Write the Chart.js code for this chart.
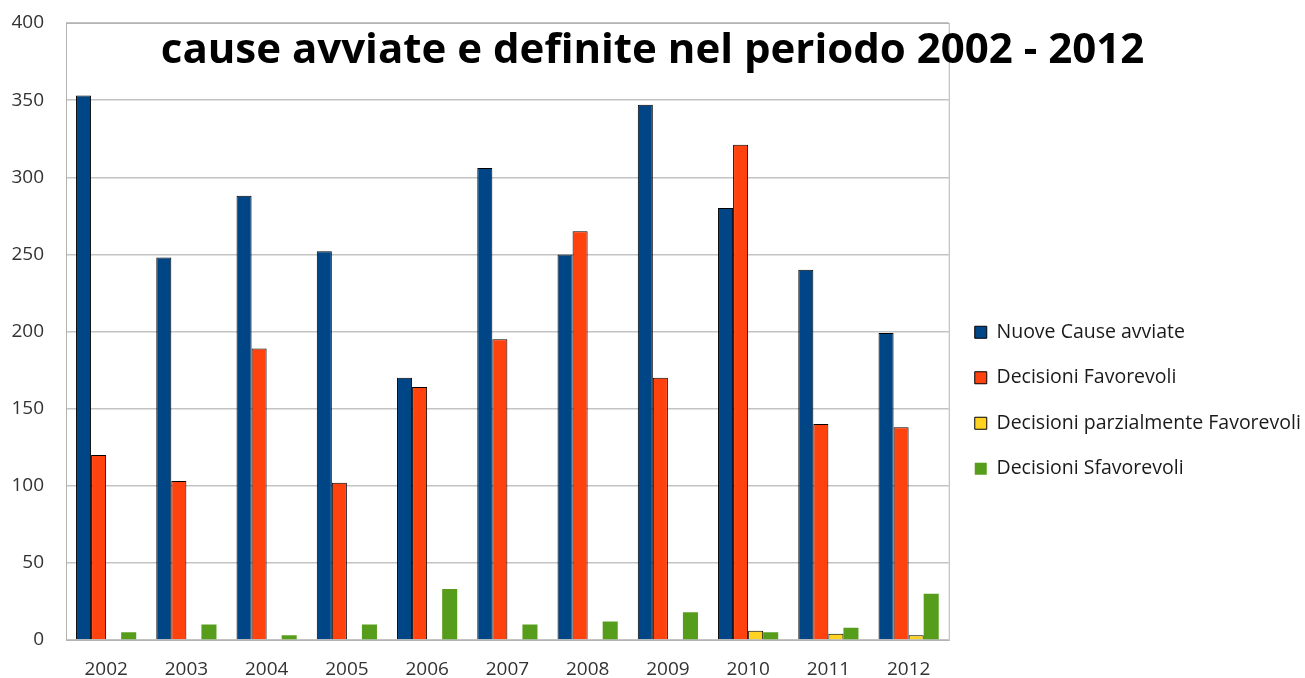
<!DOCTYPE html>
<html>
<head>
<meta charset="utf-8">
<script src="https://cdn.jsdelivr.net/npm/chart.js@4/dist/chart.umd.min.js"></script>
<style>
    html, body { margin: 0; padding: 0; background: #fff; }
    #wrap { width: 1305px; height: 678px; }
</style>
</head>
<body>
<div id="wrap"><canvas id="causeChart"></canvas></div>
<script>
// Data
const years = ['2002', '2003', '2004', '2005', '2006', '2007', '2008', '2009', '2010', '2011', '2012'];
const nuoveCause = [353, 248, 288, 252, 170, 306, 250, 347, 280, 240, 199];
const favorevoli = [120, 103, 189, 102, 164, 195, 265, 170, 321, 140, 138];
const parzialmente = [0, 0, 0, 0, 0, 0, 0, 0, 6, 4, 3];
const sfavorevoli = [5, 10, 3, 10, 33, 10, 12, 18, 5, 8, 30];
const yTicks = [0, 50, 100, 150, 200, 250, 300, 350, 400];

const FONT = "'Open Sans', 'DejaVu Sans', sans-serif";

// Title drawn over the plot, plus a frame round the plot area
const overlayPlugin = {
    id: 'overlay',
    afterInit(chart) {
        // vertical legend draws items after a left padding it doesn't count in its width
        const legend = chart.legend;
        const fit = legend.fit.bind(legend);
        legend.fit = function () {
            fit();
            this.width += 30;
        };
    },
    afterDraw(chart) {
        const ctx = chart.ctx;
        const area = chart.chartArea;
        ctx.save();
        ctx.strokeStyle = '#b3b3b3';
        ctx.lineWidth = 1;
        ctx.strokeRect(area.left + 0.5, area.top + 0.5, area.right - area.left, area.bottom - area.top);
        ctx.fillStyle = '#000';
        ctx.font = 'bold 42px ' + FONT;
        ctx.textAlign = 'center';
        ctx.textBaseline = 'alphabetic';
        ctx.fillText('cause avviate e definite nel periodo 2002 - 2012', chart.width / 2, 63);
        ctx.restore();
    }
};

new Chart(document.getElementById('causeChart'), {
    type: 'bar',
    data: {
        labels: years,
        datasets: [{
            label: 'Nuove Cause avviate',
            data: nuoveCause,
            backgroundColor: '#004586',
            borderColor: '#000',
            borderWidth: 1
        }, {
            label: 'Decisioni Favorevoli',
            data: favorevoli,
            backgroundColor: '#ff420e',
            borderColor: '#000',
            borderWidth: 1
        }, {
            label: 'Decisioni parzialmente Favorevoli',
            data: parzialmente,
            backgroundColor: '#ffd320',
            borderColor: '#000',
            borderWidth: 1
        }, {
            label: 'Decisioni Sfavorevoli',
            data: sfavorevoli,
            backgroundColor: '#579d1c',
            borderColor: '#579d1c',
            borderWidth: 0
        }]
    },
    options: {
        responsive: true,
        maintainAspectRatio: false,
        animation: false,
        datasets: {
            bar: {
                categoryPercentage: 0.75,
                barPercentage: 1.0
            }
        },
        layout: {
            autoPadding: false,
            padding: { top: 23, right: 0, bottom: 0, left: 0 }
        },
        plugins: {
            title: { display: false },
            tooltip: { enabled: false },
            legend: {
                display: true,
                position: 'right',
                title: {
                    display: true,
                    text: ' ',
                    font: { size: 10 },
                    padding: { top: 88, bottom: 0 }
                },
                labels: {
                    color: '#1a1a1a',
                    boxWidth: 12,
                    boxHeight: 12,
                    padding: 26,
                    font: { family: FONT, size: 19.5 }
                }
            }
        },
        scales: {
            y: {
                min: 0,
                max: 400,
                afterBuildTicks(axis) {
                    axis.ticks = yTicks.map(v => ({ value: v }));
                },
                afterFit(axis) {
                    axis.width = 66;
                    axis.paddingTop = 0;
                    axis.paddingBottom = 0;
                },
                grid: {
                    color: '#c3c3c3',
                    lineWidth: 1.5,
                    drawTicks: false
                },
                border: { display: false },
                ticks: {
                    color: '#333',
                    padding: 22,
                    font: { family: FONT, size: 19 }
                }
            },
            x: {
                afterFit(axis) {
                    axis.height = 38;
                },
                grid: { display: false, drawTicks: false },
                border: { display: false },
                ticks: {
                    color: '#333',
                    padding: 18,
                    font: { family: FONT, size: 19 }
                }
            }
        }
    },
    plugins: [overlayPlugin]
});
</script>
</body>
</html>
